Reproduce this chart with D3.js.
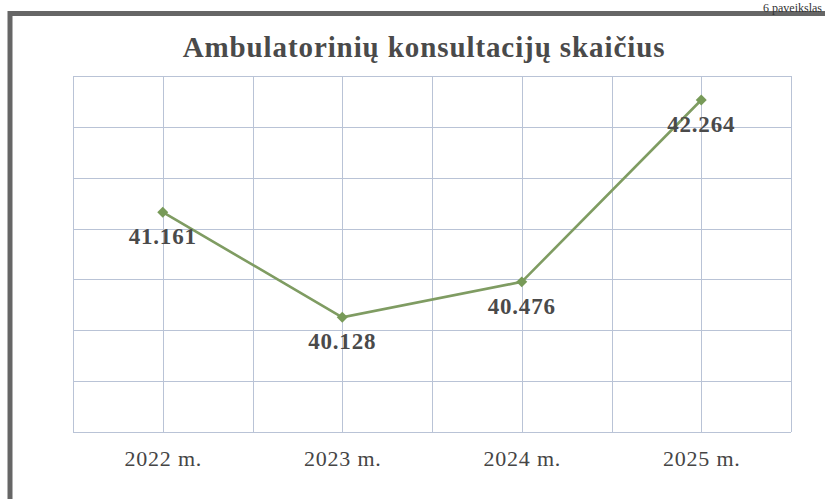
<!DOCTYPE html>
<meta charset="utf-8">
<style>
body {
  margin: 0;
  background: #fff;
}
svg {
  display: block;
}
.grid line {
  stroke: #b9c3d6;
  stroke-width: 1;
  shape-rendering: crispEdges;
}
.grid path {
  display: none;
}
.xlab text {
  font: 22px "Liberation Serif", serif;
  letter-spacing: 0.8px;
  fill: #454545;
}
.val {
  font: bold 23px "Liberation Serif", serif;
  letter-spacing: 0.8px;
  fill: #4a4a4a;
}
</style>
<body>
<script src="https://d3js.org/d3.v7.min.js"></script>
<script>

var years = ["2022 m.", "2023 m.", "2024 m.", "2025 m."];
var consultations = [41161, 40128, 40476, 42264];
var yTicks = [39000, 39500, 40000, 40500, 41000, 41500, 42000, 42500];

var W = 825, H = 499;
var margin = {top: 76, right: 34, bottom: 67, left: 73},
    width = W - margin.left - margin.right,
    height = H - margin.top - margin.bottom;

var svg = d3.select("body").append("svg")
    .attr("width", W)
    .attr("height", H);

// scanned frame around the figure
svg.append("rect")
    .attr("x", 10).attr("y", 13.5)
    .attr("width", 830).attr("height", 500)
    .attr("fill", "none")
    .attr("stroke", "#666")
    .attr("stroke-width", 5);

svg.append("text")
    .attr("x", 822).attr("y", 11.5)
    .attr("text-anchor", "end")
    .style("font", "12px 'Liberation Serif', serif")
    .style("fill", "#333")
    .text("6 paveikslas");

svg.append("text")
    .attr("x", 424).attr("y", 57)
    .attr("text-anchor", "middle")
    .style("font", "bold 29px 'Liberation Serif', serif")
    .style("letter-spacing", "0.9px")
    .style("fill", "#4a4a4a")
    .text("Ambulatorinių konsultacijų skaičius");

var g = svg.append("g")
    .attr("transform", "translate(" + margin.left + "," + margin.top + ")");

var x = d3.scalePoint().domain(years).range([0, width]).padding(0.5);
var xb = d3.scaleLinear().domain([0, 8]).range([0, width]);
var y = d3.scaleLinear().domain([39000, 42500]).range([height, 0]);

// horizontal gridlines
g.append("g")
    .attr("class", "grid")
    .call(d3.axisLeft(y).tickValues(yTicks).tickSize(-width).tickFormat(""));

// vertical gridlines: category centres and boundaries
g.append("g")
    .attr("class", "grid")
    .attr("transform", "translate(0," + height + ")")
    .call(d3.axisBottom(xb).ticks(8).tickSize(-height).tickFormat(""));

var xa = g.append("g")
    .attr("class", "xlab")
    .attr("transform", "translate(0," + height + ")")
    .call(d3.axisBottom(x).tickSize(0).tickPadding(18));
xa.select(".domain").remove();

var data = years.map(function(d, i) { return {year: d, v: consultations[i]}; });

var line = d3.line()
    .x(function(d) { return x(d.year); })
    .y(function(d) { return y(d.v); });

g.append("path")
    .datum(data)
    .attr("fill", "none")
    .attr("stroke", "#7f9c62")
    .attr("stroke-width", 2.6)
    .attr("d", line);

// markers: squares turned 45 degrees
g.selectAll(".pt")
    .data(data)
  .enter().append("path")
    .attr("class", "pt")
    .attr("d", d3.symbol().type(d3.symbolSquare).size(60))
    .attr("transform", function(d) { return "translate(" + x(d.year) + "," + y(d.v) + ") rotate(45)"; })
    .attr("fill", "#779a58");

var fmt = function(v) { return d3.format(",")(v).replace(",", "."); };

g.selectAll(".val")
    .data(data)
  .enter().append("text")
    .attr("class", "val")
    .attr("x", function(d) { return x(d.year); })
    .attr("y", function(d) { return y(d.v) + 32; })
    .attr("text-anchor", "middle")
    .text(function(d) { return fmt(d.v); });

</script>
